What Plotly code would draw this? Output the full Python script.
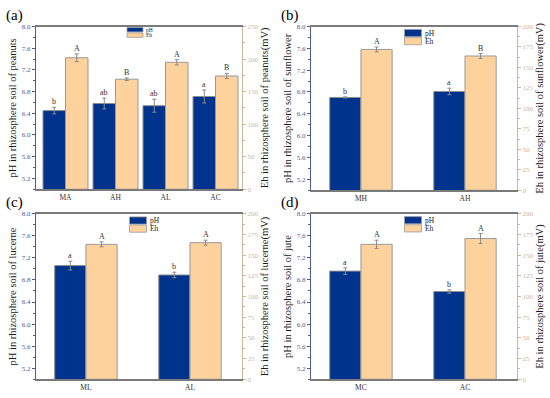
import plotly.graph_objects as go

# ---- data ----
cats_a = ["MA", "AH", "AL", "AC"]
ph_a = [6.45, 6.58, 6.54, 6.71]
ph_err_a = [0.06, 0.10, 0.12, 0.12]
eh_a = [202, 169, 195, 174]
eh_err_a = [6, 2, 4, 4]
ph_let_a = ["b", "ab", "ab", "a"]
eh_let_a = ["A", "B", "A", "B"]

cats_b = ["MH", "AH"]
ph_b = [6.70, 6.81]
ph_err_b = [0.01, 0.06]
eh_b = [172, 164]
eh_err_b = [3, 3]
ph_let_b = ["b", "a"]
eh_let_b = ["A", "B"]

cats_c = ["ML", "AL"]
ph_c = [7.06, 6.89]
ph_err_c = [0.08, 0.05]
eh_c = [163, 165]
eh_err_c = [3, 3]
ph_let_c = ["a", "b"]
eh_let_c = ["A", "A"]

cats_d = ["MC", "AC"]
ph_d = [6.96, 6.59]
ph_err_d = [0.06, 0.03]
eh_d = [163, 170]
eh_err_d = [5, 6]
ph_let_d = ["a", "b"]
eh_let_d = ["A", "A"]

crops = ["peanuts", "sunflower", "lucerne", "jute"]
panel_tags = ["(a)", "(b)", "(c)", "(d)"]
eh_max = [250, 200, 200, 200]
eh_dtick = [50, 25, 25, 25]
legend_labels = ["pH", "Eh"]

W, H = 550, 398


def fx(px):
    return px / W


def fy(py):
    return 1 - py / H


PH_COL = "#00338C"
EH_COL = "#FED29C"
LEFT_COL = "#4E5B8F"
RIGHT_COL = "#C9B79E"
FONT = "Liberation Serif, Times New Roman, serif"

panels = [
    dict(cats=cats_a, ph=ph_a, phe=ph_err_a, eh=eh_a, ehe=eh_err_a, pl=ph_let_a, el=eh_let_a,
         px=(36, 242), py=(23, 189), bw=0.45, xr=(-0.59, 3.53),
         leg=(127, 24, 16, 4.5, 5.5)),
    dict(cats=cats_b, ph=ph_b, phe=ph_err_b, eh=eh_b, ehe=eh_err_b, pl=ph_let_b, el=eh_let_b,
         px=(311, 517), py=(23, 190), bw=0.30, xr=(-0.48, 1.5),
         leg=(404.5, 26, 17, 7.3, 7.5)),
    dict(cats=cats_c, ph=ph_c, phe=ph_err_c, eh=eh_c, ehe=eh_err_c, pl=ph_let_c, el=eh_let_c,
         px=(36, 242), py=(214, 383), bw=0.30, xr=(-0.48, 1.5),
         leg=(129.5, 217.3, 17, 7.3, 7.5)),
    dict(cats=cats_d, ph=ph_d, phe=ph_err_d, eh=eh_d, ehe=eh_err_d, pl=ph_let_d, el=eh_let_d,
         px=(311, 517), py=(214, 383), bw=0.30, xr=(-0.48, 1.5),
         leg=(404.5, 217, 17, 7.3, 7.5)),
]

fig = go.Figure()
layout = dict(width=W, height=H, margin=dict(l=0, r=0, t=0, b=0),
              paper_bgcolor="white", plot_bgcolor="white",
              font=dict(family=FONT, size=8, color="black"), showlegend=False)
annotations = []
shapes = []

for i, p in enumerate(panels):
    n = i + 1
    xa = "x" if n == 1 else f"x{n}"
    yl_i = 2 * i + 1
    yr_i = 2 * i + 2
    yl = "y" if yl_i == 1 else f"y{yl_i}"
    yr = f"y{yr_i}"
    xs = list(range(len(p["cats"])))
    bw = p["bw"]
    fig.add_trace(go.Bar(
        x=xs, y=p["ph"], width=bw, offset=-bw, name="pH", xaxis=xa, yaxis=yl,
        marker=dict(color=PH_COL, line=dict(color="#8f8f8f", width=1)),
        error_y=dict(type="data", array=p["phe"], color="#8a8a8a", thickness=1, width=2)))
    fig.add_trace(go.Bar(
        x=xs, y=p["eh"], width=bw, offset=0, name="Eh", xaxis=xa, yaxis=yr,
        marker=dict(color=EH_COL, line=dict(color="#9a9a9a", width=1)),
        error_y=dict(type="data", array=p["ehe"], color="#8a8a8a", thickness=1, width=2)))

    x0, x1 = p["px"]
    y0, y1 = p["py"]
    dom_x = [fx(x0), fx(x1)]
    dom_y = [fy(y1), fy(y0)]
    xkey = "xaxis" if n == 1 else f"xaxis{n}"
    ylkey = "yaxis" if yl_i == 1 else f"yaxis{yl_i}"
    yrkey = f"yaxis{yr_i}"
    layout[xkey] = dict(domain=dom_x, anchor=yl, range=list(p["xr"]), tickmode="array",
                        tickvals=xs, ticktext=p["cats"], showline=True, linecolor="#7a7a7a",
                        linewidth=1.5, mirror=True, showgrid=False, zeroline=False,
                        ticks="", tickfont=dict(size=7.5, family=FONT, color="#333"))
    layout[ylkey] = dict(domain=dom_y, anchor=xa, range=[5.0, 8.0], tick0=5.2, dtick=0.4,
                         tickformat=".1f", showline=True, linecolor=LEFT_COL, linewidth=1,
                         ticks="outside", ticklen=3, tickcolor=LEFT_COL, showgrid=False,
                         zeroline=False, tickfont=dict(size=7, family=FONT, color=LEFT_COL),
                         minor=dict(dtick=0.2, tick0=5.0, ticks="outside", ticklen=2, tickcolor=LEFT_COL),
                         title=dict(text=f"pH in rhizosphere soil of {crops[i]}", standoff=3,
                                    font=dict(size=10.5, family=FONT, color="#1a1a1a")))
    layout[yrkey] = dict(overlaying=yl, side="right", anchor=xa, range=[0, eh_max[i]],
                         dtick=eh_dtick[i], showline=True, linecolor=RIGHT_COL, linewidth=1,
                         ticks="outside", ticklen=3, tickcolor=RIGHT_COL, showgrid=False,
                         zeroline=False, tickfont=dict(size=7, family=FONT, color=RIGHT_COL),
                         minor=dict(dtick=eh_dtick[i] / 2, ticks="outside", ticklen=2, tickcolor=RIGHT_COL),
                         title=dict(text=f"Eh in rhizosphere soil of {crops[i]}(mV)", standoff=3,
                                    font=dict(size=10.5, family=FONT, color="#1a1a1a")))
    # manual legend (swatch boxes + labels)
    lx, ly, sw, sh, fs = p["leg"]
    for k, (lab, col) in enumerate(zip(legend_labels, [PH_COL, EH_COL])):
        ty = ly + k * (sh + 1)
        shapes.append(dict(type="rect", xref="paper", yref="paper",
                           x0=fx(lx), x1=fx(lx + sw), y0=fy(ty + sh), y1=fy(ty),
                           fillcolor=col, line=dict(color="#9a9a9a", width=0.8)))
        annotations.append(dict(x=fx(lx + sw + 1), y=fy(ty + sh / 2), xref="paper", yref="paper",
                                text=lab, showarrow=False, xanchor="left", yanchor="middle",
                                font=dict(size=fs, family=FONT, color="#222")))
    for j in xs:
        annotations.append(dict(x=j - bw / 2, y=p["ph"][j] + p["phe"][j], xref=xa, yref=yl,
                                text=p["pl"][j], showarrow=False, yanchor="bottom", yshift=-1,
                                font=dict(size=8, family=FONT, color="#333")))
        annotations.append(dict(x=j + bw / 2, y=p["eh"][j] + p["ehe"][j], xref=xa, yref=yr,
                                text=p["el"][j], showarrow=False, yanchor="bottom", yshift=-1,
                                font=dict(size=8, family=FONT, color="#333")))
    annotations.append(dict(x=fx(x0 - 32), y=fy(y0 - 22), xref="paper", yref="paper",
                            text=panel_tags[i], showarrow=False, xanchor="left", yanchor="top",
                            font=dict(size=15, family=FONT, color="black")))

layout["annotations"] = annotations
layout["shapes"] = shapes
fig.update_layout(**layout)
fig.write_html("out.html", config={"displayModeBar": False},
               post_script="document.body.style.margin='0';document.body.style.overflow='hidden';")
